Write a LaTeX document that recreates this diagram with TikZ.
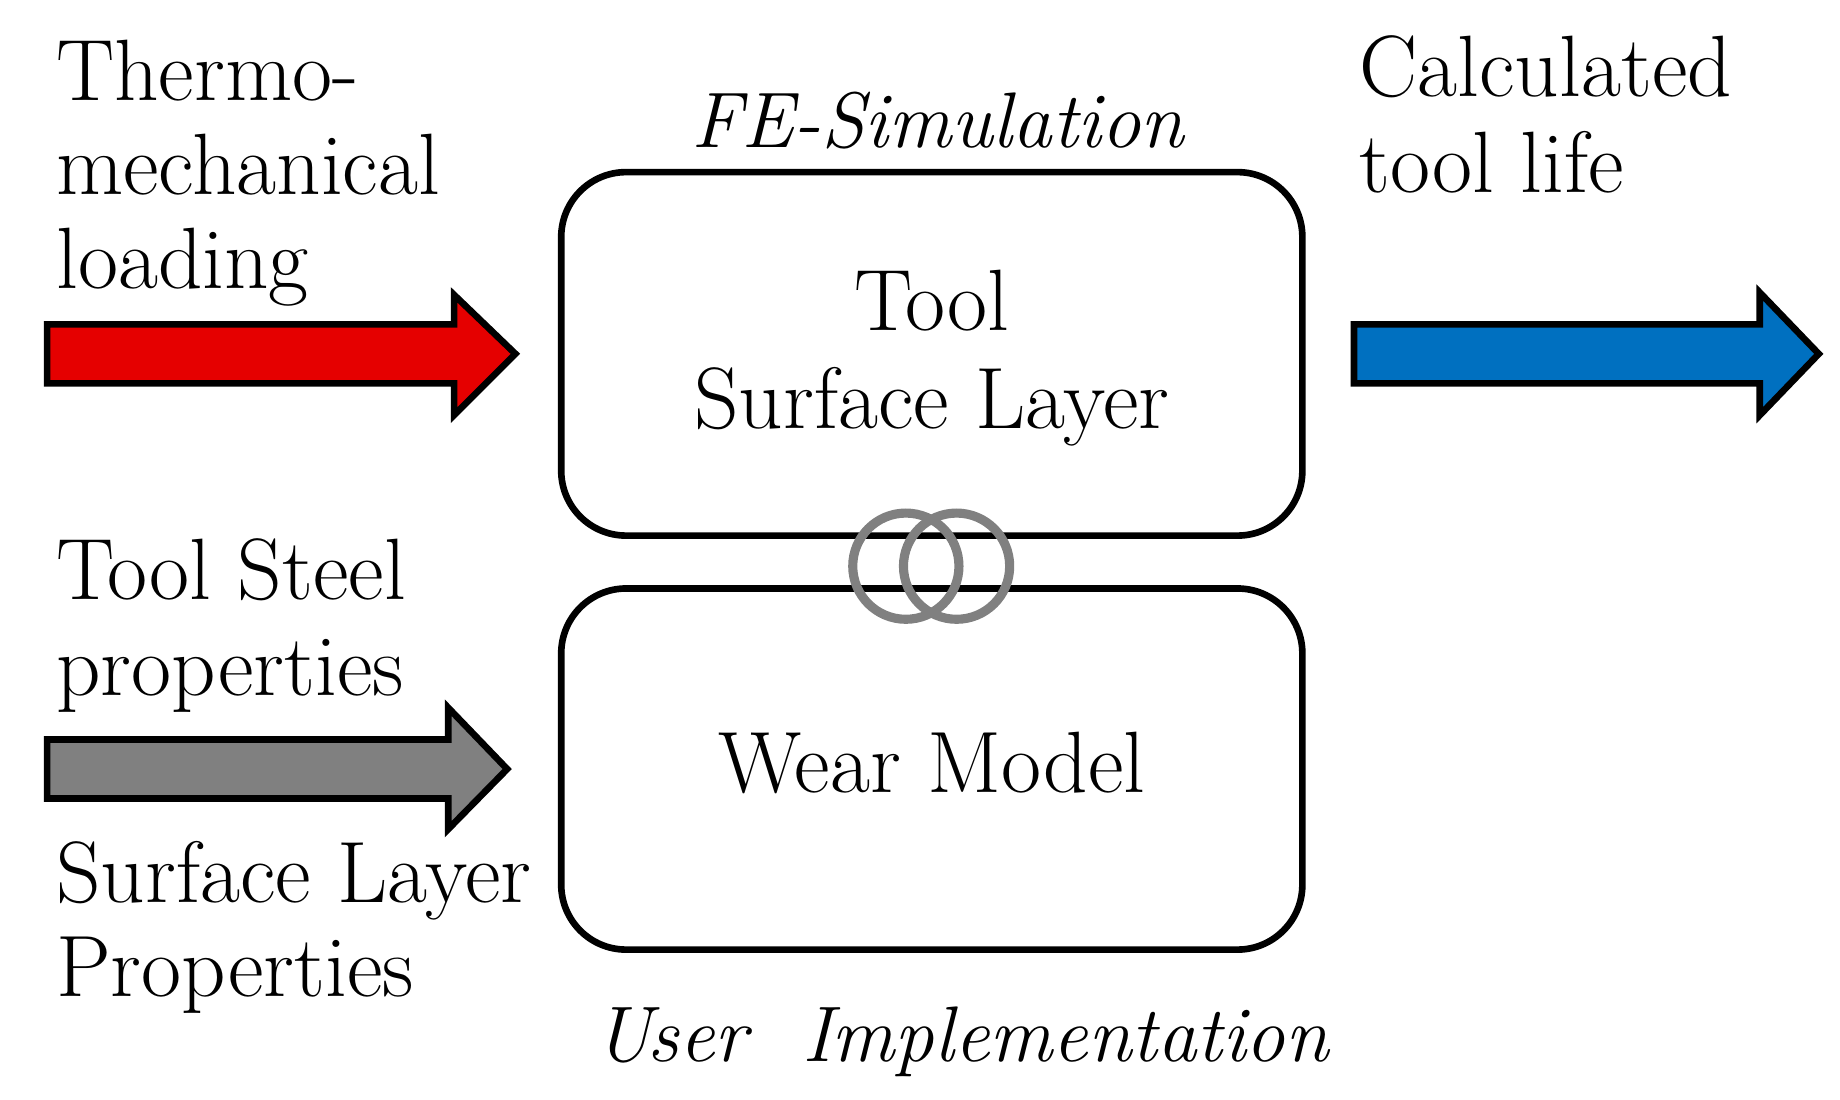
\documentclass[tikz,border=0pt]{standalone}
\begin{document}
\begin{tikzpicture}[x=0.01cm,y=-0.01cm,
  txt/.style={inner sep=0pt,font=\fontsize{21}{23}\selectfont},
  itxt/.style={inner sep=0pt,font=\fontsize{19}{21}\selectfont\itshape},
  box/.style={draw,line width=1.6pt,rounded corners=0.55cm},
  arr/.style={draw=black,line width=1.6pt,line join=miter}]
\useasboundingbox (0,0) rectangle (1560,932);
% arrows
\draw[arr,fill=red!90!black] (40,275)--(385,275)--(385,250)--(437,300)--(385,352)--(385,325)--(40,325)--cycle;
\draw[arr,fill=gray] (40,627)--(380,627)--(380,600)--(430,652)--(380,703)--(380,677)--(40,677)--cycle;
\draw[arr,fill={rgb,255:red,0;green,112;blue,192}] (1148,275)--(1492,275)--(1492,248)--(1542,300)--(1492,352)--(1492,325)--(1148,325)--cycle;
% boxes
\node[box,minimum width=6.28cm,minimum height=3.08cm] (top) at (790,300) {};
\node[box,minimum width=6.28cm,minimum height=3.06cm] (bot) at (790,652) {};
\node[circle,draw=gray,line width=2.2pt,minimum size=0.9cm,inner sep=0pt] (c1) at (768,480) {};
\node[circle,draw=gray,line width=2.2pt,minimum size=0.9cm,inner sep=0pt] (c2) at (811,480) {};
% texts
\node[txt,anchor=base west] (t1) at (47,85) {Thermo-};
\node[txt,anchor=base west] (t2) at (47,165) {mechanical};
\node[txt,anchor=base west] (t3) at (47,245) {loading};
\node[itxt,anchor=base] (fe) at (795,125) {FE-Simulation};
\node[txt,anchor=base west] (c1t) at (1152,82) {Calculated};
\node[txt,anchor=base west] (c2t) at (1152,163) {tool life};
\node[txt,anchor=base] (tl1) at (790,280) {Tool};
\node[txt,anchor=base] (tl2) at (790,363) {Surface Layer};
\node[txt,anchor=base west] (s1) at (47,508) {Tool Steel};
\node[txt,anchor=base west] (s2) at (47,590) {properties};
\node[txt,anchor=base] (wm) at (790,672) {Wear Model};
\node[txt,anchor=base west] (p1) at (47,765) {Surface Layer};
\node[txt,anchor=base west] (p2) at (47,845) {Properties};
\node[itxt,anchor=base] (ui) at (815,900) {User\ \ Implementation};
\end{tikzpicture}
\end{document}
